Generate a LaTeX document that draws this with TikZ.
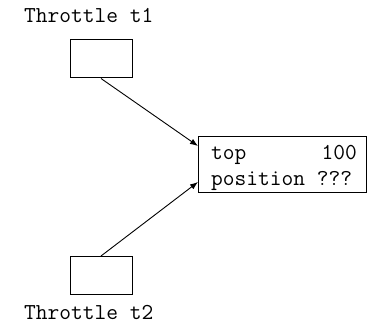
\documentclass[tikz,border=0pt]{standalone}
\usepackage{fontspec}
\usetikzlibrary{arrows.meta}
\begin{document}
\begin{tikzpicture}[x=1pt,y=-1pt,
  txt/.style={font=\ttfamily\fontsize{22.8}{26}\selectfont, inner sep=0pt},
  blk/.style={draw, line width=1pt, minimum width=62pt, minimum height=38pt, inner sep=0pt},
  bigbox/.style={draw, line width=1pt, minimum width=168pt, minimum height=56pt, inner sep=0pt},
  conn/.style={line width=0.9pt, -{Latex[length=8pt,width=6pt]}}]
\useasboundingbox (0,0) rectangle (374,323);
\node[blk] (b1) at (101,59) {};
\node[blk] (b2) at (101,275.5) {};
\node[bigbox] (s) at (282,164.5) {};
\node[txt, anchor=base west] (l1) at (24,22.7) {Throttle t1};
\node[txt, anchor=base west] (l2) at (24,319.5) {Throttle t2};
\node[txt, anchor=base west] (k1) at (211,159) {top};
\node[txt, anchor=base east] (v1) at (357,159) {100};
\node[txt, anchor=base west] (k2) at (211,185) {position ???};
\coordinate (e1) at (198,146);
\coordinate (e2) at (198,182);
\draw[conn] (b1.south) -- (e1);
\draw[conn] (b2.north) -- (e2);
\end{tikzpicture}
\end{document}
